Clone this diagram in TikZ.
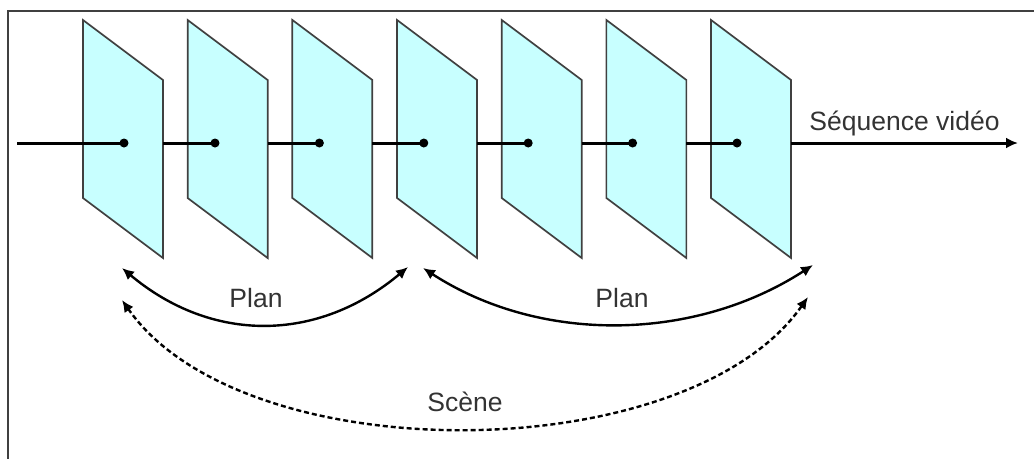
\documentclass[tikz,border=0pt]{standalone}
\usepackage{fontspec}
\setmainfont{Liberation Sans}
\usetikzlibrary{arrows.meta}
\definecolor{framefill}{RGB}{200,255,255}

\begin{document}
\begin{tikzpicture}[x=1pt, y=1pt, >={Latex[length=12pt,width=11pt]}, font=\fontsize{26.5}{30}\selectfont]
  \tikzstyle{frame} = [draw=black!75, line width=1.7pt, fill=framefill]
  \tikzstyle{dot} = [circle, fill=black, inner sep=0pt, minimum size=9pt]
  \tikzstyle{axis} = [line width=3pt]
  \tikzstyle{span} = [line width=2.4pt, <->]
  \tikzstyle{lbl} = [text=black!80, inner sep=0pt]
  \useasboundingbox (0,0) rectangle (1034,-459);
  \draw[black!75, line width=1.6pt] (1034,-11) -- (8,-11) -- (8,-459);

  % frames of the video
  \foreach \i in {1,...,7} {
    \pgfmathsetmacro{\x}{83+104.67*(\i-1)}
    \draw[frame] (\x,-20) -- (\x+80,-80) -- (\x+80,-258) -- (\x,-198) -- cycle;
    \coordinate (r\i) at (\x+80,-143);
  }
  \node[dot] (d1) at (124,-143) {};
  \foreach \i in {2,...,7}
    \node[dot] (d\i) at ({215+104.4*(\i-2)},-143) {};

  % time axis
  \coordinate (in) at (17,-143);
  \coordinate (out) at (1018,-143);
  \draw[axis] (in) -- (d1.center);
  \foreach \i [evaluate=\i as \j using int(\i+1)] in {1,...,6}
    \draw[axis] (r\i) -- (d\j.center);
  \draw[axis, ->] (r7) -- node[lbl, above=6pt] {Séquence vidéo} (out);

  % shots and scene
  \coordinate (p1a) at (122,-268);
  \coordinate (p1b) at (408,-267);
  \coordinate (p2a) at (423,-268);
  \coordinate (p2b) at (813,-265);
  \coordinate (s1) at (122,-300);
  \coordinate (s2) at (808,-297);
  \draw[span] (p1a) to[out=-40, in=-140, looseness=1.05] node[lbl, above=15pt, xshift=-9pt] {Plan} (p1b);
  \draw[span] (p2a) to[out=-33, in=-147, looseness=0.92] node[lbl, above=15pt, xshift=4pt] {Plan} (p2b);
  \draw[span, dash pattern=on 5pt off 3pt] (s1) to[out=-55, in=-125, looseness=0.785] node[lbl, above=15pt] {Scène} (s2);
\end{tikzpicture}
\end{document}
